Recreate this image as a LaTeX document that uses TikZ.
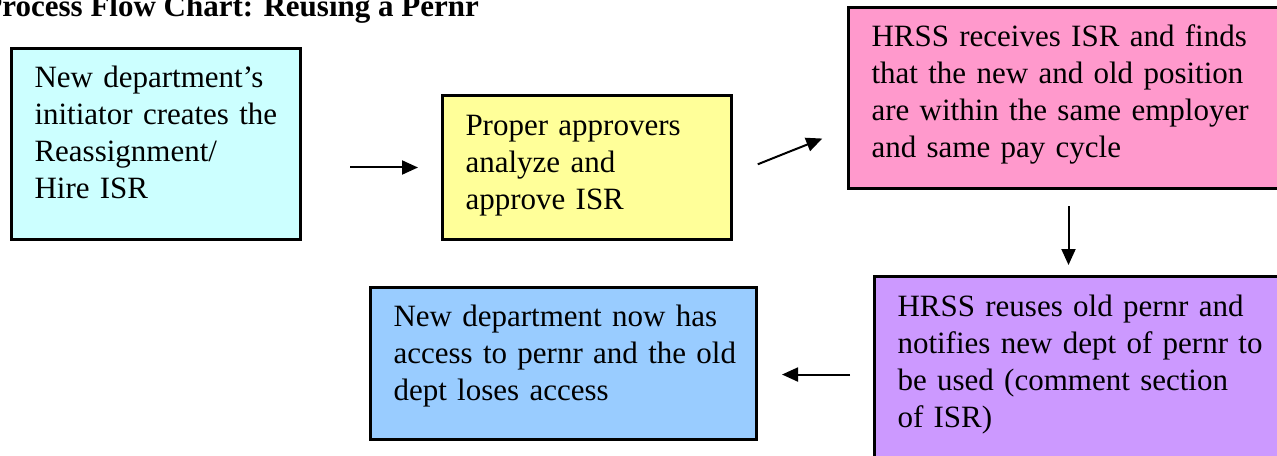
\documentclass[tikz,border=0pt]{standalone}
\usepackage{fontspec}
\setmainfont{Liberation Serif}
\usetikzlibrary{arrows.meta}

\definecolor{initcyan}{RGB}{204,255,255}
\definecolor{apprylw}{RGB}{255,255,153}
\definecolor{hrsspink}{RGB}{255,153,204}
\definecolor{reusepurple}{RGB}{204,153,255}
\definecolor{accessblue}{RGB}{153,204,255}

\tikzset{every picture/.style={line width=0.75pt}}
\tikzset{
  procbox/.style={draw, line width=2.25pt, anchor=north west, inner xsep=17.25pt, inner ysep=0pt,
    align=left, font=\fontsize{23.25pt}{27.75pt}\selectfont,
    execute at begin node={\rightskip=0pt plus 1fil minus 40pt}},
  flow/.style={line width=1.5pt, -{Triangle[length=12pt,width=10.5pt]}}
}

\begin{document}
\begin{tikzpicture}[x=0.75pt,y=0.75pt,yscale=-1,xscale=1]
\useasboundingbox (0,0) rectangle (1277,456);

% Text Node
\node [anchor=base west, inner sep=0pt, font=\fontsize{23.25pt}{27.75pt}\selectfont\bfseries] (title) at (-17,17) {Process Flow Chart: Reusing a Pernr};

%Shape: Rectangle
\node [procbox, fill=initcyan, text width=182.25pt, text height=29.25pt, text depth=114pt] (init) at (10,47)
  {New department’s\\initiator creates the\\Reassignment/\\Hire ISR};
%Shape: Rectangle
\node [procbox, fill=apprylw, text width=182.25pt, text height=30pt, text depth=78pt] (approve) at (441,94)
  {Proper approvers\\analyze and\\approve ISR};
%Shape: Rectangle
\node [procbox, fill=hrsspink, text width=295.5pt, text height=29.25pt, text depth=106.5pt] (receive) at (847,6)
  {HRSS receives ISR and finds\\that the new and old position\\are within the same employer\\and same pay cycle};
%Shape: Rectangle
\node [procbox, fill=reusepurple, text width=278.25pt, text height=30pt, text depth=110.25pt] (reuse) at (873,275)
  {HRSS reuses old pernr and\\notifies new dept of pernr to\\be used (comment section\\of ISR)};
%Shape: Rectangle
\node [procbox, fill=accessblue, text width=255pt, text height=29.25pt, text depth=84.75pt] (access) at (369,286)
  {New department now has\\access to pernr and the old\\dept loses access};

%Straight Lines
\draw [flow, shorten <=36pt, shorten >=17.25pt] (init.east |- approve.west) -- (approve.west);
%Straight Lines
\draw [flow, shorten <=20pt, shorten >=20pt] ([yshift=5pt]approve.east) -- ([yshift=23pt]receive.west);
%Straight Lines
\draw [flow, shorten <=12pt, shorten >=7.5pt] (receive.south) -- (receive.south |- reuse.north);
%Straight Lines
\coordinate (reusein) at ([yshift=3.4pt]reuse.west);
\draw [flow, shorten <=17.25pt, shorten >=18pt] (reusein) -- (reusein -| access.east);

\end{tikzpicture}
\end{document}
